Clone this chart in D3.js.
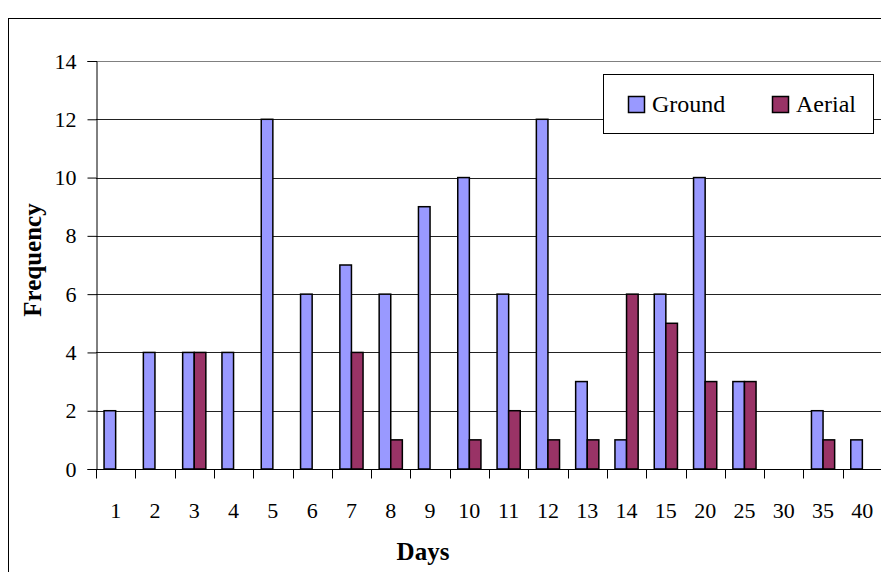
<!DOCTYPE html>
<html>
<head>
<meta charset="utf-8">
<script src="https://cdn.jsdelivr.net/npm/d3@7"></script>
<style>
    body { margin: 0; background: #fff; }
    svg { display: block; font-family: "Liberation Serif", "Times New Roman", serif; }
</style>
</head>
<body>
<svg></svg>
<script>
const WIDTH = 881;
const HEIGHT = 572;

// data
const days = ['1', '2', '3', '4', '5', '6', '7', '8', '9', '10', '11', '12', '13', '14', '15', '20', '25', '30', '35', '40'];
const ground = [2, 4, 4, 4, 12, 6, 7, 6, 9, 10, 6, 12, 3, 1, 6, 10, 3, 0, 2, 1];
const aerial = [0, 0, 4, 0, 0, 0, 4, 1, 0, 1, 2, 1, 1, 6, 5, 3, 3, 0, 1, 0];
const seriesNames = ['Ground', 'Aerial'];
const yTicks = [0, 2, 4, 6, 8, 10, 12, 14];

const colors = { Ground: '#9999ff', Aerial: '#993366' };

let svg = d3.select('svg')
    .attr('width', WIDTH)
    .attr('height', HEIGHT);

// outer chart frame (runs off the right and bottom edges)
svg.append('rect')
    .attr('x', 8.5).attr('y', 18.5)
    .attr('width', 900).attr('height', 600)
    .attr('fill', 'none')
    .attr('stroke', '#000')
    .attr('stroke-width', 1);

let x = d3.scaleBand()
    .domain(days)
    .range([96, 882])
    .paddingInner(0)
    .paddingOuter(0);
const bw = x.bandwidth();
let x1 = d3.scaleBand()
    .domain(seriesNames)
    .range([bw * 0.205, bw * 0.795]);
let y = d3.scaleLinear()
    .domain([0, 14])
    .range([469, 61]);

// gridlines
svg.append('g')
    .classed('grid', true)
    .selectAll('line')
    .data(yTicks.filter(d => d > 0))
    .enter()
    .append('line')
        .attr('x1', 96).attr('x2', 882)
        .attr('y1', d => Math.round(y(d)) + 0.5)
        .attr('y2', d => Math.round(y(d)) + 0.5)
        .attr('stroke', d => d === 14 ? '#808080' : '#222')
        .attr('stroke-width', 1);

// bars
const rows = days.map((d, i) => ({ day: d, Ground: ground[i], Aerial: aerial[i] }));
let groups = svg.append('g')
    .classed('bars', true)
    .selectAll('g')
    .data(rows)
    .enter()
    .append('g')
        .attr('transform', d => `translate(${x(d.day)},0)`);
groups.selectAll('rect')
    .data(d => seriesNames.filter(k => d[k] > 0).map(k => ({ key: k, value: d[k] })))
    .enter()
    .append('rect')
        .attr('x', d => x1(d.key))
        .attr('y', d => y(d.value))
        .attr('width', x1.bandwidth())
        .attr('height', d => y(0) - y(d.value))
        .attr('fill', d => colors[d.key])
        .attr('stroke', '#000')
        .attr('stroke-width', 1.5);

// y axis
let yAxis = svg.append('g')
    .attr('transform', 'translate(96.5,0)')
    .call(d3.axisLeft(y).tickValues(yTicks).tickSize(9).tickPadding(11).tickFormat(d3.format('d')));
yAxis.select('.domain').attr('stroke', '#000');
yAxis.selectAll('.tick line').attr('stroke', '#000');
yAxis.selectAll('text')
    .attr('font-family', '"Liberation Serif", serif')
    .attr('font-size', 22)
    .attr('fill', '#000');

// x axis
let xAxis = svg.append('g')
    .attr('transform', `translate(0,${Math.round(y(0)) + 0.5})`);
xAxis.append('line')
    .attr('x1', 96).attr('x2', 882)
    .attr('stroke', '#000');
xAxis.selectAll('.xtick')
    .data(days)
    .enter()
    .append('line')
        .attr('class', 'xtick')
        .attr('x1', d => Math.round(x(d)) + 0.5)
        .attr('x2', d => Math.round(x(d)) + 0.5)
        .attr('y1', 0).attr('y2', 9)
        .attr('stroke', '#000');
xAxis.selectAll('text')
    .data(days)
    .enter()
    .append('text')
        .attr('x', d => x(d) + bw / 2)
        .attr('y', 48)
        .attr('text-anchor', 'middle')
        .attr('font-size', 22)
        .text(d => d);

// axis titles
svg.append('text')
    .attr('x', 423).attr('y', 560)
    .attr('text-anchor', 'middle')
    .attr('font-size', 25)
    .attr('font-weight', 'bold')
    .text('Days');
svg.append('text')
    .attr('transform', 'translate(41,260) rotate(-90)')
    .attr('text-anchor', 'middle')
    .attr('font-size', 25)
    .attr('font-weight', 'bold')
    .text('Frequency');

// legend
let legend = svg.append('g').classed('legend', true);
legend.append('rect')
    .attr('x', 603.5).attr('y', 74.5)
    .attr('width', 270).attr('height', 59)
    .attr('fill', '#fff')
    .attr('stroke', '#000');
const legendX = { Ground: 628, Aerial: 772 };
let items = legend.selectAll('g.item')
    .data(seriesNames)
    .enter()
    .append('g')
        .attr('class', 'item')
        .attr('transform', d => `translate(${legendX[d]},96)`);
items.append('rect')
    .attr('x', 0.5).attr('y', 0.5)
    .attr('width', 16).attr('height', 16)
    .attr('fill', d => colors[d])
    .attr('stroke', '#000')
    .attr('stroke-width', 1.5);
items.append('text')
    .attr('x', 24).attr('y', 16)
    .attr('font-size', 24)
    .text(d => d);
</script>
</body>
</html>
